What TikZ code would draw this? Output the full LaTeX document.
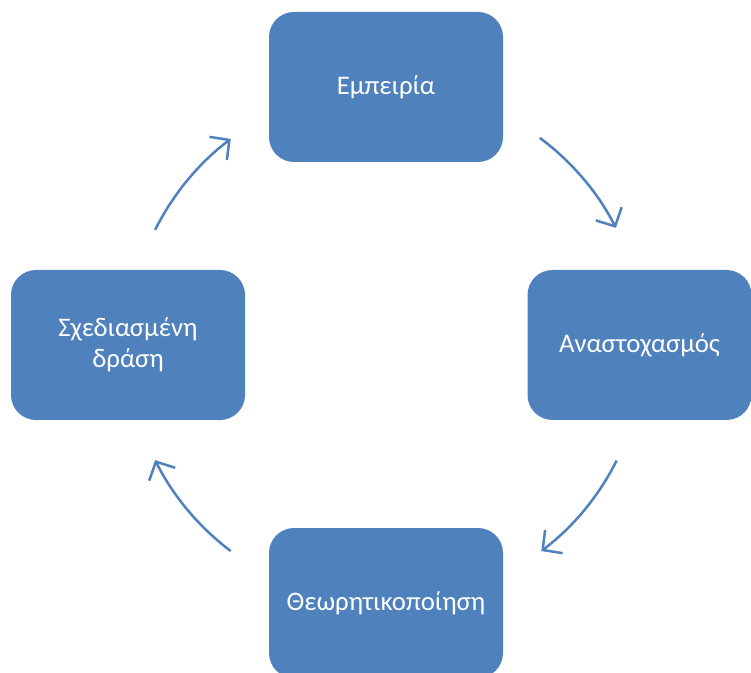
\documentclass[tikz,border=0pt]{standalone}
\usepackage{fontspec}
\setmainfont{Carlito}
\usetikzlibrary{arrows.meta}
\definecolor{boxblue}{HTML}{4F81BD}
\tikzset{
  stagebox/.style={fill=boxblue, rounded corners=25pt, minimum width=234pt, minimum height=150pt,
    text=white, font=\fontsize{26.8}{31}\selectfont, align=center, inner sep=0pt},
  cyclearrow/.style={draw=boxblue, line width=2.5pt, -{Straight Barb[length=14pt,width=29pt,line width=2.5pt]}}
}
\begin{document}
\begin{tikzpicture}[x=1pt,y=1pt]
\useasboundingbox (0,0) rectangle (751,672);
\node[stagebox] (emp) at (386,585) {Εμπειρία};
\node[stagebox, minimum width=224pt] (ana) at (639.5,327) {Αναστοχασμός};
\node[stagebox] (theo) at (386,69) {Θεωρητικοποίηση};
\node[stagebox] (sxe) at (128,327) {Σχεδιασμένη\\δράση};
\coordinate (c) at (386,327);
\draw[cyclearrow] ([shift={(53.4:258)}]c) arc[start angle=53.4, end angle=27, radius=258];
\draw[cyclearrow] ([shift={(-26.6:258)}]c) arc[start angle=-26.6, end angle=-53, radius=258];
\draw[cyclearrow] ([shift={(233:258)}]c) arc[start angle=233, end angle=206.5, radius=258];
\draw[cyclearrow] ([shift={(153.5:258)}]c) arc[start angle=153.5, end angle=127, radius=258];
\end{tikzpicture}
\end{document}
